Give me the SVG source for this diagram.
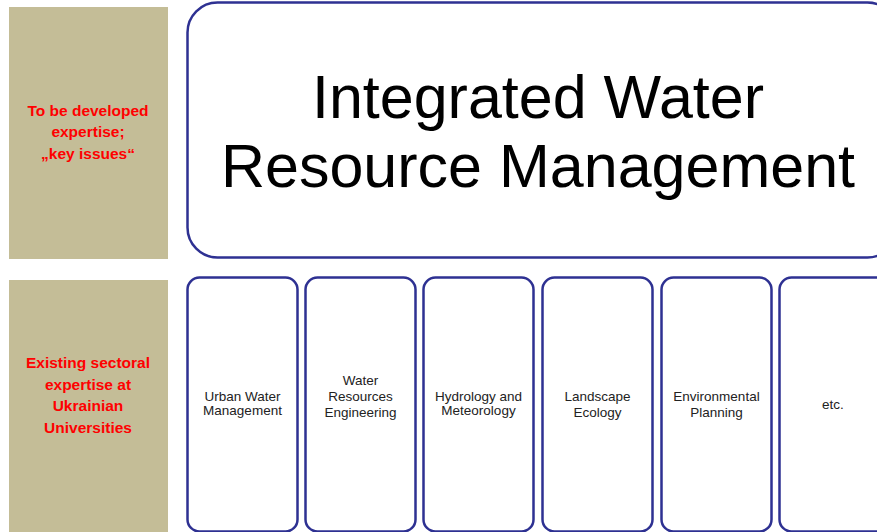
<svg xmlns="http://www.w3.org/2000/svg" width="877" height="532" viewBox="0 0 877 532">
<style>
.tan{fill:#c4bd97}
.lab{font-family:"Liberation Sans",Arial,sans-serif;font-weight:bold;font-size:15.5px;fill:#ff0000;text-anchor:middle}
.box{fill:#ffffff;stroke:#2e3192;stroke-width:2.5}
.big{font-family:"Liberation Sans",Arial,sans-serif;font-size:61px;fill:#000;text-anchor:middle}
.sm{font-family:"Liberation Sans",Arial,sans-serif;font-size:13.5px;fill:#222;text-anchor:middle}
</style>
<rect width="877" height="532" fill="#ffffff"/>
<g id="label-top">
<rect class="tan" x="9" y="7" width="159" height="252"/>
<text class="lab" x="88" y="116">To be developed</text>
<text class="lab" x="88" y="137">expertise;</text>
<text class="lab" x="88" y="159">„key issues“</text>
</g>
<g id="label-bottom">
<rect class="tan" x="9" y="280" width="159" height="252"/>
<text class="lab" x="88" y="368">Existing sectoral</text>
<text class="lab" x="88" y="390">expertise at</text>
<text class="lab" x="88" y="411">Ukrainian</text>
<text class="lab" x="88" y="433">Universities</text>
</g>
<g id="iwrm">
<rect class="box" x="187.5" y="2.5" width="710" height="255" rx="30" ry="30"/>
<text class="big" x="538" y="118">Integrated Water</text>
<text class="big" x="538" y="187">Resource Management</text>
</g>
<g id="urban">
<rect class="box" x="187.5" y="277.5" width="110" height="254" rx="12" ry="12"/>
<text class="sm" x="242.5" y="401">Urban Water</text>
<text class="sm" x="242.5" y="415">Management</text>
</g>
<g id="wre">
<rect class="box" x="305.5" y="277.5" width="110" height="254" rx="12" ry="12"/>
<text class="sm" x="360.5" y="385">Water</text>
<text class="sm" x="360.5" y="401">Resources</text>
<text class="sm" x="360.5" y="417">Engineering</text>
</g>
<g id="hydro">
<rect class="box" x="423.5" y="277.5" width="110" height="254" rx="12" ry="12"/>
<text class="sm" x="478.5" y="401">Hydrology and</text>
<text class="sm" x="478.5" y="415">Meteorology</text>
</g>
<g id="landscape">
<rect class="box" x="542.5" y="277.5" width="110" height="254" rx="12" ry="12"/>
<text class="sm" x="597.5" y="401">Landscape</text>
<text class="sm" x="597.5" y="417">Ecology</text>
</g>
<g id="envplan">
<rect class="box" x="661.5" y="277.5" width="110" height="254" rx="12" ry="12"/>
<text class="sm" x="716.5" y="401">Environmental</text>
<text class="sm" x="716.5" y="417">Planning</text>
</g>
<g id="etc">
<rect class="box" x="779.5" y="277.5" width="110" height="254" rx="12" ry="12"/>
<text class="sm" x="833" y="409">etc.</text>
</g>
<g id="connectors"/>
</svg>
